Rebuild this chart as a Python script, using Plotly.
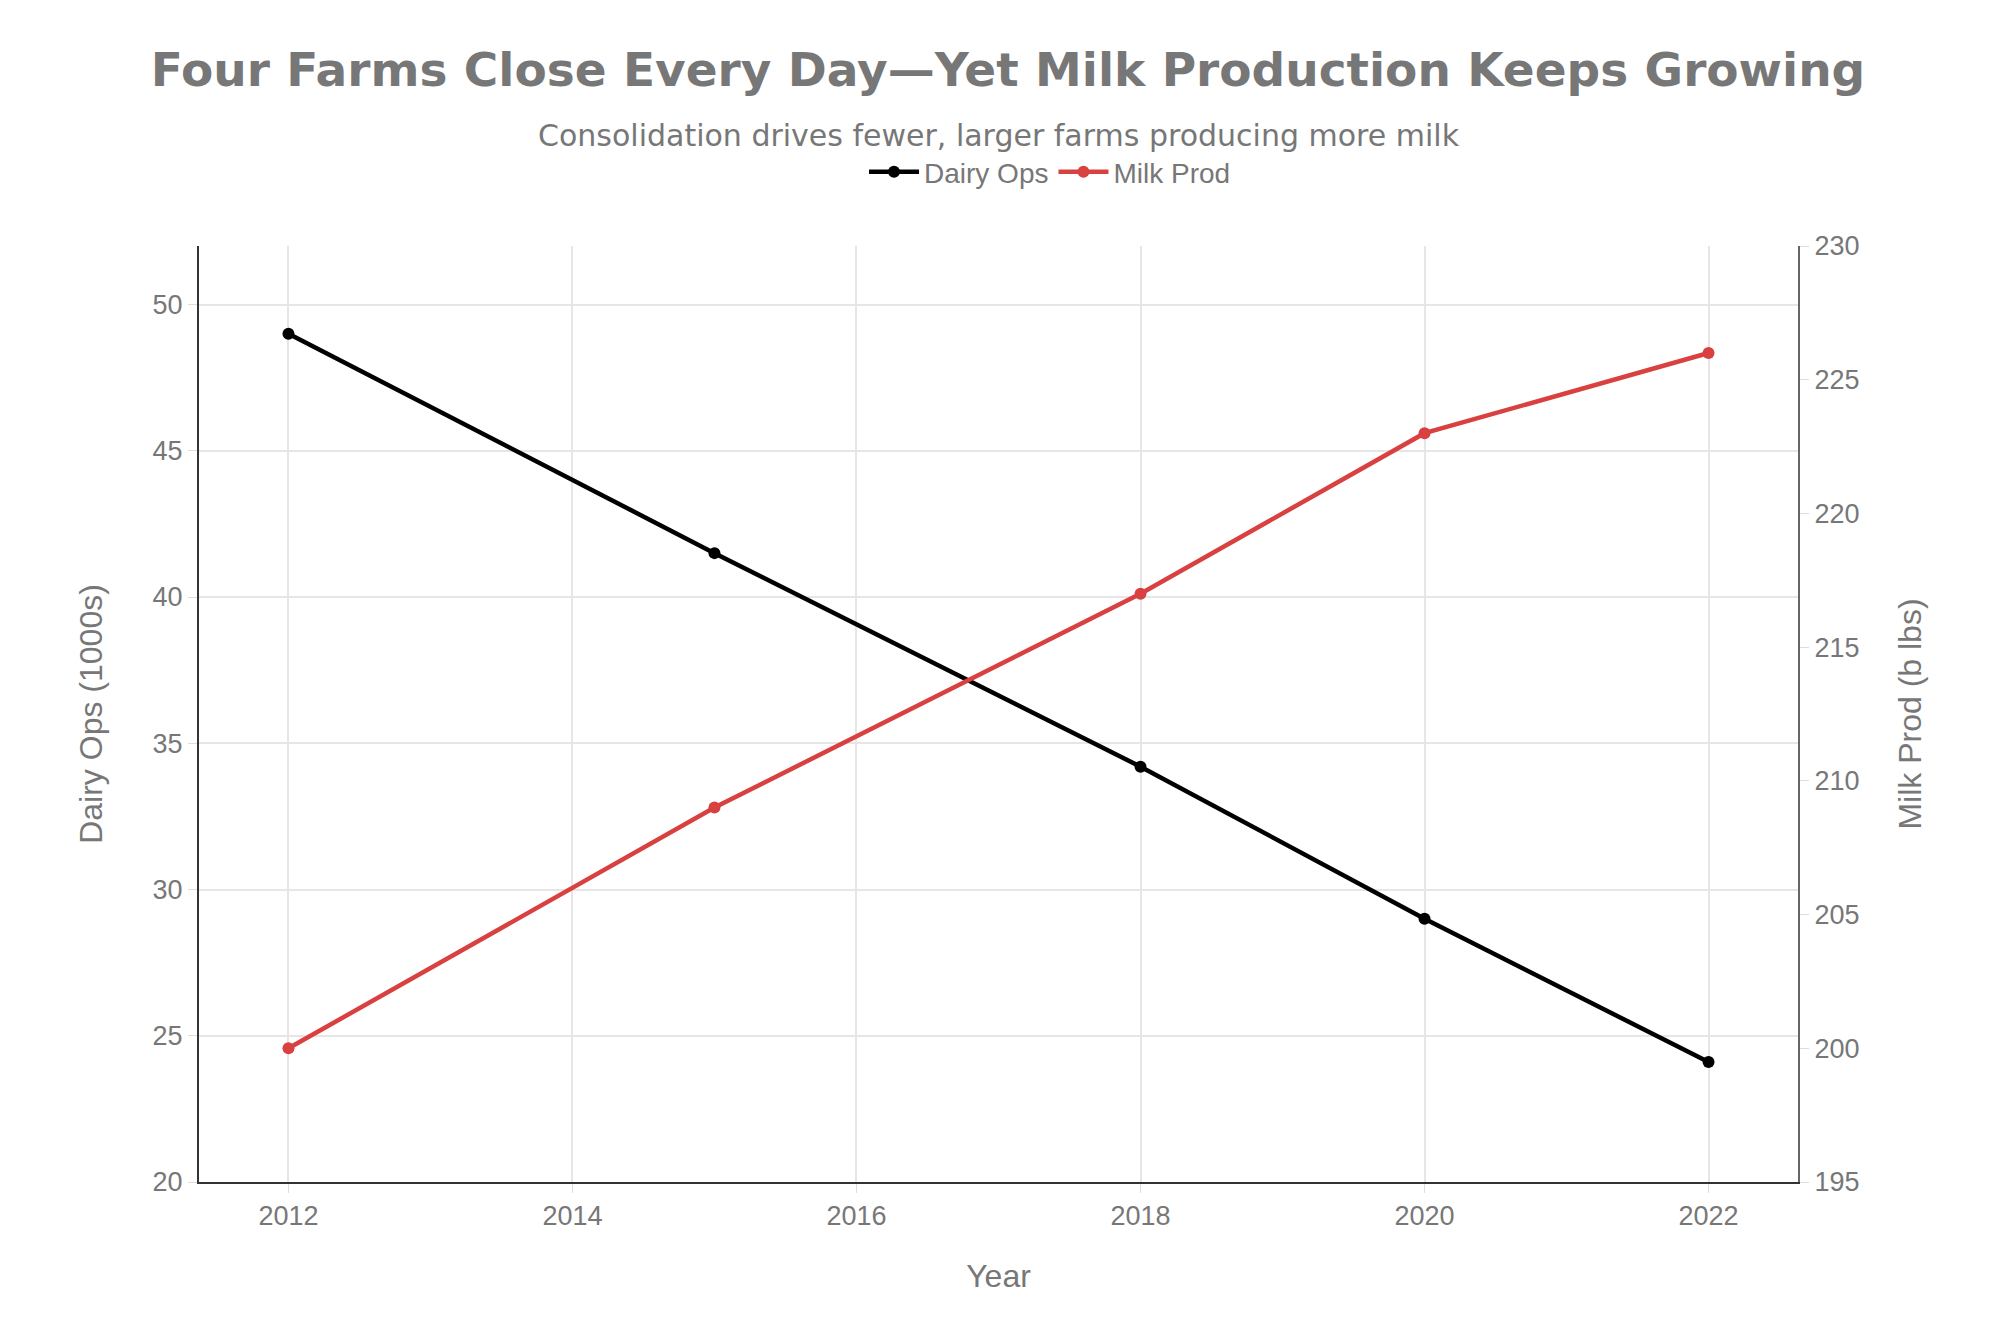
import plotly.graph_objects as go

years_ops = [2012, 2015, 2018, 2020, 2022]
dairy_ops = [49.0, 41.5, 34.2, 29.0, 24.1]
years_milk = [2012, 2015, 2018, 2020, 2022]
milk_prod = [200, 209, 217, 223, 226]
x_ticks = [2012, 2014, 2016, 2018, 2020, 2022]

GRAY = "#777777"
SANS = "Liberation Sans, Arial, sans-serif"
TICKFONT = dict(family=SANS, size=27, color=GRAY)

# page has an 8px body margin; plot area in page: x 199-1798, y 246-1182
L, T, R, B = 191, 238, 210, 159
PH = 1333 - T - B
PW = 2000 - L - R

fig = go.Figure()
fig.add_trace(go.Scatter(
    x=years_ops, y=dairy_ops, name="Dairy Ops", mode="lines+markers",
    line=dict(color="#000000", width=4.5), marker=dict(color="#000000", size=12),
    yaxis="y"))
fig.add_trace(go.Scatter(
    x=years_milk, y=milk_prod, name="Milk Prod", mode="lines+markers",
    line=dict(color="#d94141", width=4.5), marker=dict(color="#d94141", size=12),
    yaxis="y2"))

fig.update_layout(
    width=2000, height=1333,
    paper_bgcolor="white", plot_bgcolor="white",
    margin=dict(l=L, r=R, t=T, b=B),
    font=dict(family=SANS, color=GRAY),
    title=dict(text="<b>Four Farms Close Every Day—Yet Milk Production Keeps Growing</b>",
               x=0.5, xanchor="center", y=1 - 62 / 1333, yanchor="middle",
               font=dict(family="DejaVu Sans, sans-serif", size=47, color=GRAY)),
    annotations=[dict(text="Consolidation drives fewer, larger farms producing more milk",
                      xref="paper", yref="paper", x=0.5, y=1 + (246 - 136) / PH,
                      xanchor="center", yanchor="middle", showarrow=False,
                      font=dict(family="DejaVu Sans, sans-serif", size=30, color=GRAY))],
    legend=dict(orientation="h", x=(1050 - 199) / PW, xanchor="center", y=1 + (246 - 172) / PH,
                yanchor="middle", font=dict(family=SANS, size=28, color=GRAY),
                itemwidth=50, bgcolor="rgba(0,0,0,0)"),
    xaxis=dict(title=dict(text="Year", font=dict(size=32, color=GRAY), standoff=34),
               range=[2011.37, 2022.63], tickvals=x_ticks, tickfont=TICKFONT,
               showgrid=True, gridcolor="#e6e6e6", gridwidth=1.5,
               showline=True, linecolor="#333333", linewidth=2,
               ticks="outside", tickcolor="#dddddd", ticklen=9, zeroline=False),
    yaxis=dict(title=dict(text="Dairy Ops (1000s)", font=dict(size=32, color=GRAY), standoff=40),
               range=[20, 52], tickvals=[20, 25, 30, 35, 40, 45, 50], tickfont=TICKFONT,
               showgrid=True, gridcolor="#e6e6e6", gridwidth=1.5,
               showline=True, linecolor="#333333", linewidth=2,
               ticks="outside", tickcolor="#dddddd", ticklen=9, zeroline=False),
    yaxis2=dict(title=dict(text="Milk Prod (b lbs)", font=dict(size=32, color=GRAY), standoff=40),
                overlaying="y", side="right", range=[195, 230],
                tickvals=[195, 200, 205, 210, 215, 220, 225, 230], tickfont=TICKFONT,
                showgrid=False, showline=True, linecolor="#666666", linewidth=2,
                ticks="outside", tickcolor="#dddddd", ticklen=9, zeroline=False),
)

fig.write_html("out.html")
